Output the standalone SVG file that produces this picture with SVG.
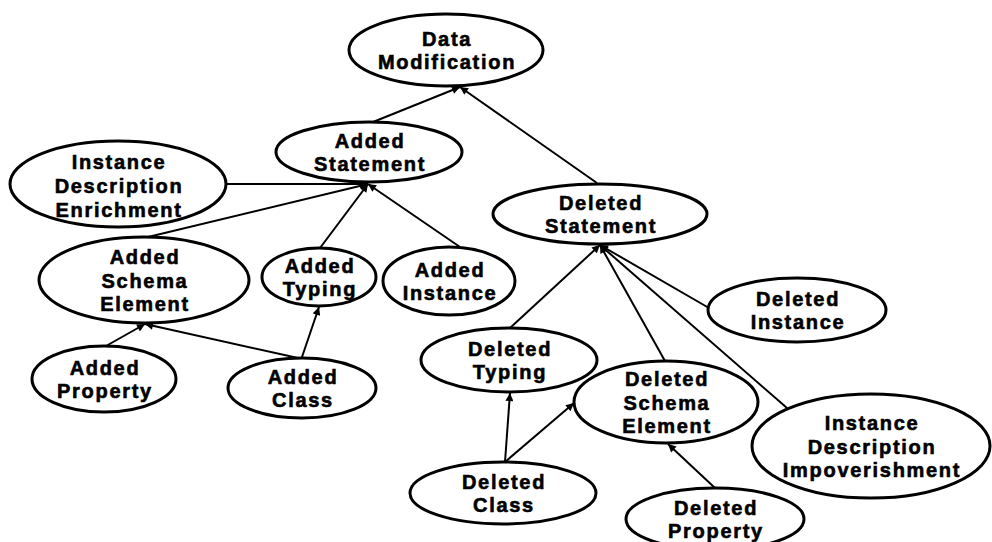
<svg xmlns="http://www.w3.org/2000/svg" width="992" height="542" viewBox="0 0 992 542">
<style>
.n ellipse{fill:#fff;stroke:#000;stroke-width:3}
.n text{font-family:"Liberation Sans",Arial,sans-serif;font-weight:bold;font-size:20px;letter-spacing:1.7px;text-anchor:middle;fill:#000;stroke:#000;stroke-width:0.6px}
#edges line{stroke:#000;stroke-width:2;marker-end:url(#ah)}
</style>
<defs>
<marker id="ah" viewBox="0 0 10 10" refX="10" refY="5" markerWidth="9" markerHeight="8" markerUnits="userSpaceOnUse" orient="auto">
<path d="M0,0 L10,5 L0,10 z" fill="#000"/>
</marker>
</defs>
<rect width="992" height="542" fill="#fff"/>
<g id="edges">
<line x1="373" y1="122" x2="460" y2="87"/>
<line x1="597" y1="183" x2="460" y2="87"/>
<line x1="227" y1="184" x2="368" y2="184"/>
<line x1="148" y1="237" x2="368" y2="184"/>
<line x1="320" y1="248" x2="368" y2="184"/>
<line x1="460" y1="247" x2="368" y2="184"/>
<line x1="106" y1="346" x2="145" y2="324"/>
<line x1="298" y1="358" x2="145" y2="324"/>
<line x1="302" y1="357" x2="319" y2="307"/>
<line x1="510" y1="328" x2="600" y2="245"/>
<line x1="665" y1="361" x2="600" y2="245"/>
<line x1="709" y1="308" x2="600" y2="245"/>
<line x1="787" y1="408" x2="600" y2="245"/>
<line x1="505" y1="462" x2="510" y2="393"/>
<line x1="505" y1="462" x2="574" y2="403"/>
<line x1="715" y1="488" x2="668" y2="444"/>
</g>
<g id="data-modification" class="n"><ellipse cx="446" cy="50" rx="97" ry="36"/><text x="447" y="46">Data</text><text x="447" y="69">Modification</text></g>
<g id="added-statement" class="n"><ellipse cx="369" cy="152" rx="93" ry="30"/><text x="370" y="148">Added</text><text x="370" y="171">Statement</text></g>
<g id="instance-description-enrichment" class="n"><ellipse cx="118" cy="184" rx="108" ry="43"/><text x="119" y="169">Instance</text><text x="119" y="193">Description</text><text x="119" y="217">Enrichment</text></g>
<g id="added-schema-element" class="n"><ellipse cx="144" cy="280" rx="105" ry="43"/><text x="145" y="264">Added</text><text x="145" y="287.5">Schema</text><text x="145" y="311">Element</text></g>
<g id="added-typing" class="n"><ellipse cx="319" cy="277" rx="57" ry="29"/><text x="320" y="273">Added</text><text x="320" y="296">Typing</text></g>
<g id="added-instance" class="n"><ellipse cx="449" cy="281" rx="66" ry="34"/><text x="450" y="277">Added</text><text x="450" y="300">Instance</text></g>
<g id="added-property" class="n"><ellipse cx="104" cy="379" rx="72" ry="33"/><text x="105" y="375">Added</text><text x="105" y="398">Property</text></g>
<g id="added-class" class="n"><ellipse cx="302" cy="388" rx="74" ry="30"/><text x="303" y="384">Added</text><text x="303" y="407">Class</text></g>
<g id="deleted-statement" class="n"><ellipse cx="600" cy="214" rx="107" ry="30"/><text x="601" y="210">Deleted</text><text x="601" y="233">Statement</text></g>
<g id="deleted-instance" class="n"><ellipse cx="797" cy="310" rx="89" ry="32"/><text x="798" y="306">Deleted</text><text x="798" y="329">Instance</text></g>
<g id="deleted-typing" class="n"><ellipse cx="509" cy="360" rx="88" ry="32"/><text x="510" y="356">Deleted</text><text x="510" y="379">Typing</text></g>
<g id="deleted-schema-element" class="n"><ellipse cx="666" cy="402" rx="92" ry="41"/><text x="667" y="386">Deleted</text><text x="667" y="409.5">Schema</text><text x="667" y="433">Element</text></g>
<g id="instance-description-impoverishment" class="n"><ellipse cx="871" cy="446" rx="119" ry="52"/><text x="872" y="430">Instance</text><text x="872" y="453.5">Description</text><text x="872" y="477">Impoverishment</text></g>
<g id="deleted-class" class="n"><ellipse cx="503" cy="493" rx="93" ry="31"/><text x="504" y="489">Deleted</text><text x="504" y="512">Class</text></g>
<g id="deleted-property" class="n"><ellipse cx="715" cy="519" rx="89" ry="31"/><text x="716" y="515">Deleted</text><text x="716" y="538">Property</text></g>
</svg>
